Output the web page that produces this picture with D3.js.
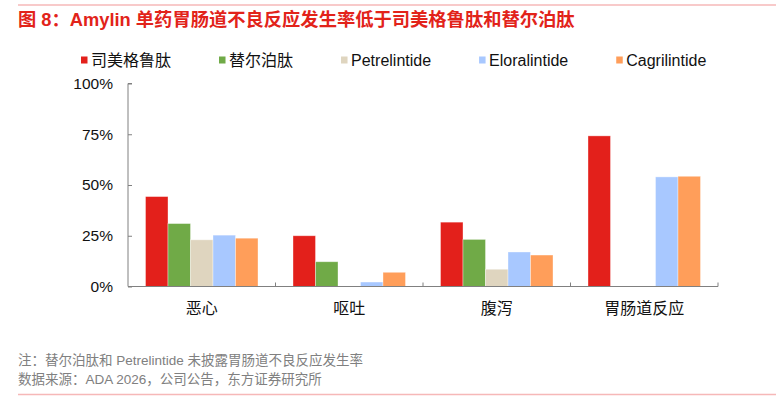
<!DOCTYPE html>
<html>
<head>
<meta charset="utf-8">
<script src="https://cdn.jsdelivr.net/npm/d3@7"></script>
<style>
  body { margin: 0; background: #fff; }
  svg { display: block; }
  .axis path, .axis line { stroke: #808080; }
  .axis text { fill: #111; }
</style>
</head>
<body>
<svg id="chart" width="782" height="401"></svg>
<script>
// Data (values in %)
const categories = ["恶心", "呕吐", "腹泻", "胃肠道反应"];
const seriesNames = ["司美格鲁肽", "替尔泊肽", "Petrelintide", "Eloralintide", "Cagrilintide"];
const semaglutide = [44.3, 25, 31.7, 74.2];
const tirzepatide = [31, 12.2, 23.2, null];
const petrelintide = [23, null, 8.5, null];
const eloralintide = [25.3, 2.2, 17, 54];
const cagrilintide = [23.8, 7, 15.5, 54.3];
const yTicks = [0, 25, 50, 75, 100];

const seriesValues = [semaglutide, tirzepatide, petrelintide, eloralintide, cagrilintide];
const colors = ["#E3201B", "#70AA47", "#DFD5BF", "#A8C8FF", "#FF9E5A"];

const titleText = "图 8：Amylin 单药胃肠道不良反应发生率低于司美格鲁肽和替尔泊肽";
const noteText = "注：替尔泊肽和 Petrelintide 未披露胃肠道不良反应发生率";
const sourceText = "数据来源：ADA 2026，公司公告，东方证券研究所";

const FONT = "'Liberation Sans', Arial, 'Noto Sans CJK SC', sans-serif";

const svg = d3.select("#chart");

// Layout
const plot = { left: 128, right: 718, top: 83.5, bottom: 286.5 };

// Decorative rules top and bottom
svg.append("line")
  .attr("x1", 18).attr("x2", 776).attr("y1", 5).attr("y2", 5)
  .attr("stroke", "#F6B8B8").attr("stroke-width", 1.5);
svg.append("line")
  .attr("x1", 18).attr("x2", 776).attr("y1", 394.5).attr("y2", 394.5)
  .attr("stroke", "#F6B8B8").attr("stroke-width", 1.5);

// Title
svg.append("text")
  .attr("x", 18).attr("y", 26)
  .attr("fill", "#E2231A")
  .attr("font-family", FONT)
  .attr("font-weight", "bold")
  .attr("font-size", 18.3)
  .text(titleText);

// Scales
const x0 = d3.scaleBand().domain(categories).range([plot.left, plot.right]);
const x1 = d3.scaleBand()
  .domain(d3.range(seriesNames.length))
  .range([0, x0.bandwidth()])
  .paddingOuter(0.778);
const y = d3.scaleLinear().domain([0, 100]).range([plot.bottom, plot.top]);

// Bars
const bars = [];
seriesValues.forEach((vals, s) => {
  vals.forEach((v, c) => {
    if (v != null) bars.push({ s, c, v });
  });
});

svg.append("g")
  .selectAll("rect")
  .data(bars)
  .join("rect")
  .attr("x", (d) => x0(categories[d.c]) + x1(d.s))
  .attr("width", x1.bandwidth())
  .attr("y", (d) => y(d.v))
  .attr("height", (d) => y(0) - y(d.v))
  .attr("fill", (d) => colors[d.s])
  .attr("stroke", "rgba(255,255,255,0.45)")
  .attr("stroke-width", 0.8);

// Y axis (ticks point inward)
const gy = svg.append("g")
  .attr("class", "axis")
  .attr("transform", `translate(${plot.left},0)`)
  .call(d3.axisRight(y).tickValues(yTicks).tickSize(4).tickFormat((d) => d + "%"));
gy.select(".domain").attr("d", `M4,${y(100)}H0V${y(0)}`);
gy.selectAll("text")
  .attr("x", -15)
  .attr("text-anchor", "end")
  .attr("font-family", FONT)
  .attr("font-size", 15.5);

// X axis: ticks at band boundaries, pointing up
const gx = svg.append("g")
  .attr("class", "axis")
  .attr("transform", `translate(0,${plot.bottom})`);
gx.append("line")
  .attr("x1", plot.left).attr("x2", plot.right)
  .attr("stroke", "#808080").attr("stroke-width", 1.2);
gx.selectAll(".btick")
  .data(categories)
  .join("line")
  .attr("class", "btick")
  .attr("x1", (d) => x0(d) + x0.bandwidth())
  .attr("x2", (d) => x0(d) + x0.bandwidth())
  .attr("y1", 0).attr("y2", -4)
  .attr("stroke", "#808080");
gx.selectAll(".clabel")
  .data(categories)
  .join("text")
  .attr("class", "clabel")
  .attr("x", (d) => x0(d) + x0.bandwidth() / 2)
  .attr("y", 27)
  .attr("text-anchor", "middle")
  .attr("font-family", FONT)
  .attr("font-size", 16)
  .attr("fill", "#111")
  .text((d) => d);

// Legend, laid out by measured text width
const legend = svg.append("g").attr("transform", "translate(81,60)");
let lx = 0;
seriesNames.forEach((name, i) => {
  const g = legend.append("g").attr("transform", `translate(${lx},0)`);
  g.append("rect")
    .attr("x", 0).attr("y", -3.5)
    .attr("width", 6.5).attr("height", 7)
    .attr("fill", colors[i]);
  const t = g.append("text")
    .attr("x", 10).attr("y", 5.5)
    .attr("font-family", FONT)
    .attr("font-size", 16)
    .attr("fill", "#111")
    .text(name);
  lx += 10 + t.node().getComputedTextLength() + 48;
});

// Footnotes
svg.append("text")
  .attr("x", 18).attr("y", 365)
  .attr("font-family", FONT)
  .attr("font-size", 13.5)
  .attr("fill", "#808080")
  .text(noteText);
svg.append("text")
  .attr("x", 18).attr("y", 384)
  .attr("font-family", FONT)
  .attr("font-size", 13.5)
  .attr("fill", "#808080")
  .text(sourceText);
</script>
</body>
</html>
